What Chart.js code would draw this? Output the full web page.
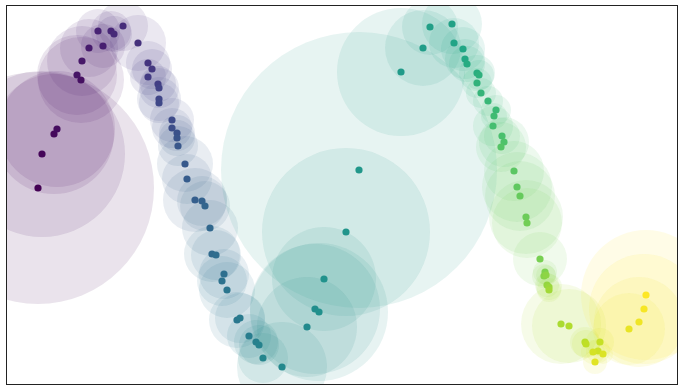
<!DOCTYPE html>
<html>
<head>
<meta charset="utf-8">
<script src="https://cdn.jsdelivr.net/npm/chart.js@4.4.0/dist/chart.umd.min.js"></script>
<style>
  html, body { margin: 0; padding: 0; background: #fff; }
  #wrap { width: 683px; height: 392px; }
</style>
</head>
<body>
<div id="wrap"><canvas id="bolhas" width="683" height="392"></canvas></div>
<script>
// posicoes dos pontos (ordem ao longo da curva)
var xs = [31, 35, 47, 50, 74, 70, 75, 82, 96, 91, 104, 107, 116,
    131, 141, 145, 141, 151, 152, 152, 152, 165, 165, 170, 170, 171, 178, 180,
    188, 195, 198, 203, 205, 209, 217, 215, 220, 230, 233, 242, 249, 252, 256,
    275, 300, 308, 312, 317, 339, 352, 394, 416, 423, 445, 447, 456, 458, 460,
    470, 472, 470, 474, 481, 489, 487, 486, 495, 497, 494, 507, 510, 513, 519,
    520, 533, 538, 537, 539, 540, 542, 542, 554, 562, 578, 579, 593, 591, 586,
    596, 588, 622, 632, 637, 639];
var ys = [196, 230, 250, 255, 304, 309, 323, 336, 338, 353, 353, 350, 358,
    341, 321, 315, 307, 300, 296, 285, 281, 264, 256, 251, 246, 238, 220, 205,
    184, 183, 178, 156, 130, 129, 110, 103, 94, 64, 66, 48, 42, 39, 26,
    17, 57, 75, 72, 105, 152, 214, 312, 336, 357, 360, 341, 335, 325, 320,
    311, 309, 301, 291, 283, 274, 268, 258, 248, 242, 237, 213, 197, 188, 167,
    161, 125, 112, 108, 109, 99, 97, 94, 60, 58, 42, 40, 42, 33, 32,
    30, 22, 55, 62, 75, 89];
// tamanho (raio) de cada bolha
var tamanhos = [116, 83, 60, 58, 43, 40, 35, 29, 22, 22, 20, 18, 25,
    28, 22, 20, 18, 18, 20, 22, 20, 22, 20, 18, 18, 20, 28, 25,
    32, 25, 25, 28, 28, 25, 25, 25, 28, 28, 25, 22, 22, 20, 25,
    45, 50, 65, 69, 52, 84, 138, 64, 38, 28, 30, 25, 22, 20, 18,
    18, 15, 15, 15, 15, 15, 13, 20, 18, 25, 25, 30, 35, 35, 37,
    35, 27, 12, 12, 10, 12, 13, 12, 40, 37, 15, 14, 14, 12, 12,
    10, 12, 36, 45, 55, 65];

var viridis = [[68,1,84],[72,36,117],[65,68,135],[53,95,141],[42,120,142],
    [33,145,140],[34,168,132],[68,190,112],[122,209,81],[189,223,38],[253,231,37]];

function cor(t, a) {
    var p = t * 10, i = Math.min(9, Math.floor(p)), f = p - i;
    var c0 = viridis[i], c1 = viridis[i + 1];
    var r = Math.round(c0[0] + (c1[0] - c0[0]) * f);
    var g = Math.round(c0[1] + (c1[1] - c0[1]) * f);
    var b = Math.round(c0[2] + (c1[2] - c0[2]) * f);
    return 'rgba(' + r + ',' + g + ',' + b + ',' + a + ')';
}

var pontos = [];
var coresPonto = [];
var coresBolha = [];
for (let k = 0; k < xs.length; k++) {
    pontos.push({ x: xs[k], y: ys[k] });
    coresPonto.push(cor(k / (xs.length - 1), 1));
    coresBolha.push(cor(k / (xs.length - 1), 0.11));
}

var moldura = {
    id: 'moldura',
    afterDraw: function(chart) {
        var a = chart.chartArea, ctx = chart.ctx;
        ctx.save();
        ctx.strokeStyle = '#222';
        ctx.lineWidth = 1;
        ctx.strokeRect(a.left - 0.5, a.top - 0.5, a.right - a.left + 1, a.bottom - a.top + 1);
        ctx.restore();
    }
};

var ctx = document.getElementById('bolhas').getContext('2d');
new Chart(ctx, {
    type: 'scatter',
    data: {
        datasets: [{
            data: pontos,
            pointRadius: 3.6,
            pointBackgroundColor: coresPonto,
            pointBorderWidth: 0,
            clip: 0
        }, {
            data: pontos,
            pointRadius: tamanhos,
            pointBackgroundColor: coresBolha,
            pointBorderWidth: 0,
            clip: 0
        }]
    },
    options: {
        responsive: false,
        animation: false,
        events: [],
        layout: { autoPadding: false, padding: { left: 7, top: 6, right: 6, bottom: 8 } },
        plugins: { legend: { display: false }, tooltip: { enabled: false } },
        scales: {
            x: { display: false, min: 0, max: 670 },
            y: { display: false, min: 0, max: 378 }
        }
    },
    plugins: [moldura]
});
</script>
</body>
</html>
